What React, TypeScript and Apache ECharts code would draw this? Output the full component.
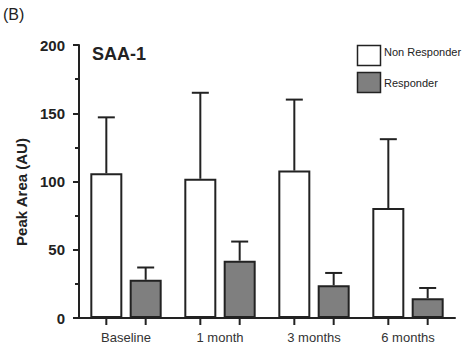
import React, { useEffect, useRef } from "react";
import * as echarts from "echarts";

const categories = ["Baseline", "1 month", "3 months", "6 months"];
const nonResponder = [106, 102, 108, 80.5];
const nonResponderErr = [147, 165, 160, 131];
const responder = [28, 42, 24, 14.5];
const responderErr = [37, 56, 33, 22];
const yTicks = [0, 50, 100, 150, 200];
const legendNames = ["Non Responder", "Responder"];

const FONT = "'Liberation Sans', Arial, sans-serif";
const INK = "#222";
const NR_COLOR = "#ffffff";
const R_COLOR = "#7f7f7f";
const BAR_W = 32;
const BAR_GAP = "23%";

export default function App() {
  const ref = useRef<HTMLDivElement>(null);
  useEffect(() => {
    if (!ref.current) return;
    const chart = echarts.init(ref.current, undefined, { renderer: "svg" });

    const makeErr = (vals: number[], errs: number[], group: number) =>
      vals.map((v, i) => [i, v, errs[i], group]);

    const renderErr = (params: any, api: any) => {
      const cat = api.value(0);
      const val = api.value(1);
      const err = api.value(2);
      const group = api.value(3);
      let offset = 0;
      try {
        const lay = api.barLayout({ count: 2, barWidth: BAR_W, barGap: BAR_GAP });
        offset = lay[group].offsetCenter;
      } catch (e) {
        const g = BAR_W * 0.23;
        offset = (group === 0 ? -1 : 1) * (BAR_W + g) / 2;
      }
      const pTop = api.coord([cat, err]);
      const pVal = api.coord([cat, val]);
      const p0 = api.coord([cat, 0]);
      const x = pTop[0] + offset;
      const st = { stroke: INK, lineWidth: 2 };
      return {
        type: "group",
        children: [
          { type: "line", shape: { x1: x, y1: pVal[1], x2: x, y2: pTop[1] }, style: st },
          { type: "line", shape: { x1: x - 8.5, y1: pTop[1], x2: x + 8.5, y2: pTop[1] }, style: st },
          { type: "line", shape: { x1: x, y1: p0[1], x2: x, y2: p0[1] + 7 }, style: st },
        ],
      };
    };

    const legendColors = [NR_COLOR, R_COLOR];
    const legendGraphics: any[] = [];
    legendNames.forEach((name, i) => {
      legendGraphics.push({
        type: "rect",
        shape: { x: 357.5, y: 45.5 + i * 27, width: 23, height: 20 },
        style: { fill: legendColors[i], stroke: INK, lineWidth: 1.5 },
      });
      legendGraphics.push({
        type: "text",
        x: 384,
        y: (i === 0 ? 52 : 82.5),
        style: {
          text: name,
          fontSize: 11,
          fill: INK,
          fontFamily: FONT,
          align: "left",
          verticalAlign: "middle",
        },
      });
    });

    chart.setOption({
      animation: false,
      backgroundColor: "#fff",
      textStyle: { fontFamily: FONT },
      grid: { left: 79, right: 7, top: 45, bottom: 34, containLabel: false },
      xAxis: {
        type: "category",
        data: categories,
        axisLine: { lineStyle: { color: INK, width: 2 } },
        axisTick: { show: false },
        axisLabel: { color: "#333", fontSize: 13, margin: 13, fontFamily: FONT },
        splitLine: { show: false },
      },
      yAxis: {
        type: "value",
        min: yTicks[0],
        max: yTicks[yTicks.length - 1],
        interval: 50,
        axisLine: { show: true, lineStyle: { color: INK, width: 2 } },
        axisTick: { show: true, length: 6, lineStyle: { color: INK, width: 2 } },
        minorTick: { show: true, splitNumber: 2, length: 4, lineStyle: { color: INK, width: 2 } },
        splitLine: { show: false },
        axisLabel: { color: INK, fontSize: 15, fontWeight: "bold", margin: 14, fontFamily: FONT },
      },
      graphic: [
        {
          type: "text",
          x: 3,
          y: 14,
          style: { text: "(B)", fontSize: 16, fill: INK, fontFamily: FONT, align: "left", verticalAlign: "middle" },
        },
        {
          type: "text",
          x: 92,
          y: 54,
          style: { text: "SAA-1", fontSize: 18, fontWeight: "bold", fill: INK, fontFamily: FONT, align: "left", verticalAlign: "middle" },
        },
        {
          type: "text",
          x: 14,
          y: 192,
          rotation: Math.PI / 2,
          style: {
            text: "Peak Area (AU)",
            fontSize: 15,
            fontWeight: "bold",
            fill: INK,
            fontFamily: FONT,
            align: "center",
            verticalAlign: "top",
          },
        },
        ...legendGraphics,
      ],
      series: [
        {
          name: legendNames[0],
          type: "bar",
          data: nonResponder,
          barWidth: BAR_W,
          barGap: BAR_GAP,
          itemStyle: { color: NR_COLOR, borderColor: INK, borderWidth: 2 },
          z: 2,
        },
        {
          name: legendNames[1],
          type: "bar",
          data: responder,
          barWidth: BAR_W,
          barGap: BAR_GAP,
          itemStyle: { color: R_COLOR, borderColor: INK, borderWidth: 2 },
          z: 2,
        },
        {
          type: "custom",
          renderItem: renderErr,
          data: [...makeErr(nonResponder, nonResponderErr, 0), ...makeErr(responder, responderErr, 1)],
          z: 3,
          clip: false,
          encode: { x: 0, y: [1, 2] },
          silent: true,
        },
      ],
    });
    return () => chart.dispose();
  }, []);
  return (
    <div
      ref={ref}
      style={{ position: "absolute", left: 0, top: 0, width: 462, height: 352 }}
    />
  );
}
